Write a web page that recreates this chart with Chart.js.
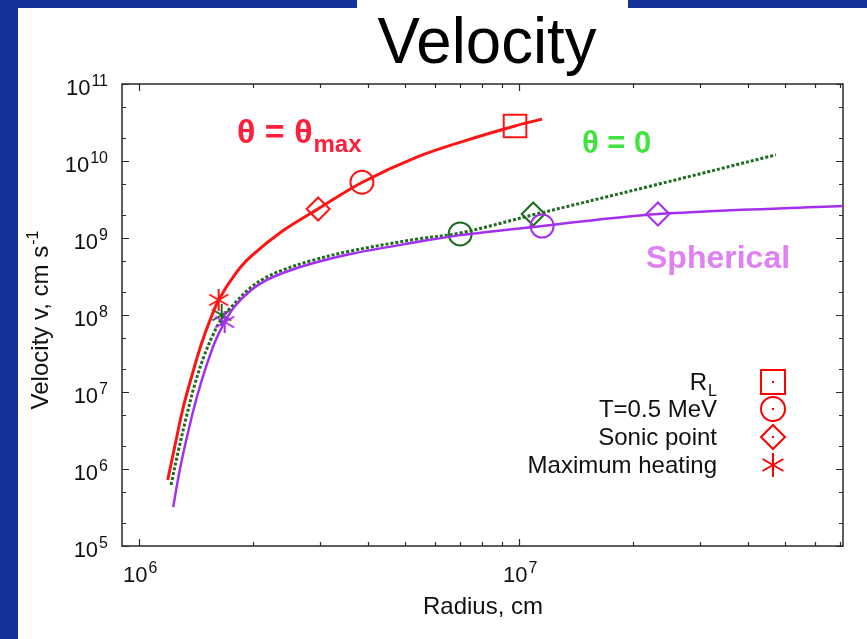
<!DOCTYPE html>
<html>
<head>
<meta charset="utf-8">
<title>Velocity</title>
<script src="https://cdn.jsdelivr.net/npm/chart.js@4.4.0/dist/chart.umd.min.js"></script>
<style>
  html, body { margin: 0; padding: 0; background: #fff; }
  #wrap { width: 867px; height: 639px; }
</style>
</head>
<body>
<div id="wrap"><canvas id="myChart" width="867" height="639"></canvas></div>
<script>
// radius (cm) / velocity (cm/s)
const redR = [1.19e6, 1.244e6, 1.306e6, 1.379e6, 1.456e6, 1.538e6, 1.62e6, 1.789e6, 1.96e6, 2.39e6, 2.96e6, 3.86e6, 5.4e6, 7.3e6, 9.76e6, 1.15e7];
const redV = [7.2e5, 2.05e6, 6.2e6, 1.66e7, 4.07e7, 8.6e7, 1.57e8, 3.37e8, 5.64e8, 1.24e9, 2.39e9, 5.26e9, 1.13e10, 1.87e10, 2.85e10, 3.5e10];

const greenR = [1.214e6, 1.267e6, 1.33e6, 1.40e6, 1.48e6, 1.565e6, 1.66e6, 1.789e6, 1.96e6, 2.146e6, 2.39e6, 2.82e6, 3.6e6, 5.4e6, 7.0e6, 1.09e7, 2.21e7, 4.74e7];
const greenV = [6.2e5, 1.66e6, 4.6e6, 1.23e7, 2.85e7, 5.5e7, 9.4e7, 1.43e8, 2.24e8, 3.03e8, 3.84e8, 5.02e8, 6.77e8, 9.7e8, 1.16e9, 2.0e9, 4.7e9, 1.2e10];

const purpleR = [1.23e6, 1.28e6, 1.346e6, 1.42e6, 1.5e6, 1.585e6, 1.68e6, 1.789e6, 1.96e6, 2.146e6, 2.39e6, 2.82e6, 3.6e6, 5.4e6, 7.0e6, 1.15e7, 2.32e7, 7.13e7];
const purpleV = [3.2e5, 9.7e5, 3.0e6, 8.6e6, 2.1e7, 4.5e7, 8.1e7, 1.31e8, 2.05e8, 2.77e8, 3.51e8, 4.59e8, 6.2e8, 8.87e8, 1.09e9, 1.43e9, 2.05e9, 2.6e9];

// special points: R_L, T=0.5 MeV, sonic point, maximum heating
const redMarkR = [9.76e6, 3.86e6, 2.96e6, 1.62e6];
const redMarkV = [2.85e10, 5.3e9, 2.38e9, 1.57e8];
const greenMarkR = [null, 7.0e6, 1.09e7, 1.65e6];
const greenMarkV = [null, 1.13e9, 2.05e9, 1.0e8];
const purpleMarkR = [null, 1.15e7, 2.32e7, 1.68e6];
const purpleMarkV = [null, 1.43e9, 2.05e9, 8.1e7];

const legendLabels = ['R', 'T=0.5 MeV', 'Sonic point', 'Maximum heating'];
const xTickExp = ['6', '7'];
const yTickExp = ['5', '6', '7', '8', '9', '10', '11'];

const FONT = '"Liberation Sans", Arial, Helvetica, sans-serif';
const RED = '#ff1414';
const GREEN = '#1f6b1f';
const PURPLE = '#a52ff0';

function pts(xs, ys) {
  const out = [];
  for (let i = 0; i < xs.length; i++) {
    if (xs[i] !== null) out.push({ x: xs[i], y: ys[i] });
  }
  return out;
}

function asterisk(color, r, lw) {
  const c = document.createElement('canvas');
  const s = Math.ceil(2 * r + lw + 2);
  c.width = s; c.height = s;
  const g = c.getContext('2d');
  g.strokeStyle = color; g.lineWidth = lw;
  g.translate(s / 2, s / 2);
  [90, 30, 150].forEach(function (deg) {
    const t = deg * Math.PI / 180;
    g.beginPath();
    g.moveTo(-r * Math.cos(t), -r * Math.sin(t));
    g.lineTo(r * Math.cos(t), r * Math.sin(t));
    g.stroke();
  });
  return c;
}

const styles = ['rect', 'circle', 'rectRot'];
function markerSet(xs, ys, color, star) {
  const data = [], ps = [], rad = [];
  for (let i = 0; i < xs.length; i++) {
    if (xs[i] === null) continue;
    data.push({ x: xs[i], y: ys[i] });
    ps.push(i === 3 ? star : styles[i]);
    rad.push(i === 0 ? 16 : 11.5);
  }
  return {
    data: data, showLine: false, borderColor: color, backgroundColor: 'rgba(0,0,0,0)',
    pointStyle: ps, pointRadius: rad, pointBorderWidth: 2, pointHoverRadius: rad
  };
}

function lineSet(xs, ys, color, width, dash) {
  return {
    data: pts(xs, ys), showLine: true, borderColor: color, borderWidth: width,
    borderDash: dash || [], pointRadius: 0, pointHoverRadius: 0,
    tension: 0.35, fill: false
  };
}

function supText(ctx, base, sup, x, y, size, supSize, rise, align) {
  ctx.font = size + 'px ' + FONT;
  const w1 = ctx.measureText(base).width;
  ctx.font = supSize + 'px ' + FONT;
  const w2 = ctx.measureText(sup).width;
  let left = x;
  if (align === 'right') left = x - w1 - w2 - 1;
  if (align === 'center') left = x - (w1 + w2 + 1) / 2;
  ctx.textAlign = 'left';
  ctx.font = size + 'px ' + FONT;
  ctx.fillText(base, left, y);
  ctx.font = supSize + 'px ' + FONT;
  ctx.fillText(sup, left + w1 + 1, y - rise);
}

const slide = {
  id: 'slide',
  beforeDraw(chart) {
    const ctx = chart.ctx;
    ctx.save();
    ctx.fillStyle = '#ffffff';
    ctx.fillRect(0, 0, chart.width, chart.height);
    ctx.fillStyle = '#13329b';
    ctx.fillRect(0, 0, 18, chart.height);
    ctx.fillRect(0, 0, chart.width, 8);
    ctx.fillStyle = '#ffffff';
    ctx.fillRect(357, 0, 271, 80);
    ctx.fillStyle = '#000000';
    ctx.textAlign = 'center';
    ctx.textBaseline = 'alphabetic';
    ctx.font = '60px ' + FONT;
    ctx.translate(487, 63);
    ctx.scale(1.06, 1.08);
    ctx.fillText('Velocity', 0, 0);
    ctx.restore();
  },
  beforeDatasetsDraw(chart) {
    const ctx = chart.ctx, a = chart.chartArea;
    const xs = chart.scales.x, ys = chart.scales.y;
    ctx.save();
    ctx.strokeStyle = '#2a2a2a';
    ctx.lineWidth = 1.5;
    ctx.strokeRect(a.left, a.top, a.right - a.left, a.bottom - a.top);
    ctx.lineWidth = 1.2;
    ctx.beginPath();
    [1e5, 1e6, 1e7].forEach(function (d) {
      for (let k = 1; k <= 9; k++) {
        const v = k * d;
        if (v < xs.min || v > xs.max) continue;
        const px = Math.round(xs.getPixelForValue(v)) + 0.5;
        const len = k === 1 ? 7 : 4;
        ctx.moveTo(px, a.bottom); ctx.lineTo(px, a.bottom - len);
        ctx.moveTo(px, a.top); ctx.lineTo(px, a.top + len);
      }
    });
    for (let e = 5; e <= 11; e++) {
      [1, 2, 5].forEach(function (k) {
        const v = k * Math.pow(10, e);
        if (v > ys.max * 1.0001) return;
        const py = Math.round(ys.getPixelForValue(v)) + 0.5;
        const len = k === 1 ? 7 : 4;
        ctx.moveTo(a.left, py); ctx.lineTo(a.left + len, py);
        ctx.moveTo(a.right, py); ctx.lineTo(a.right - len, py);
      });
    }
    ctx.stroke();
    ctx.restore();
  },
  afterDraw(chart) {
    const ctx = chart.ctx, a = chart.chartArea;
    const xs = chart.scales.x, ys = chart.scales.y;
    ctx.save();
    ctx.fillStyle = '#111111';
    ctx.textBaseline = 'alphabetic';
    // tick labels
    xTickExp.forEach(function (e) {
      const px = xs.getPixelForValue(Math.pow(10, +e));
      supText(ctx, '10', e, px - 16, a.bottom + 36, 22, 16, 9, 'left');
    });
    yTickExp.forEach(function (e) {
      const py = ys.getPixelForValue(Math.pow(10, +e));
      supText(ctx, '10', e, 108, py + 11, 22, 16, 9, 'right');
    });
    // axis titles
    ctx.font = '24px ' + FONT;
    ctx.textAlign = 'center';
    ctx.fillText('Radius, cm', 483, 614);
    ctx.save();
    ctx.translate(48, 320);
    ctx.rotate(-Math.PI / 2);
    supText(ctx, 'Velocity v, cm s', '-1', 0, 0, 24, 16, 10, 'center');
    ctx.restore();

    // legend
    const rows = [382, 409, 437, 465];
    const sx = 773;
    ctx.fillStyle = '#111111';
    ctx.textAlign = 'right';
    legendLabels.forEach(function (t, i) {
      if (i === 0) {
        ctx.font = '16px ' + FONT;
        const wl = ctx.measureText('L').width;
        ctx.font = '24px ' + FONT;
        ctx.fillText(t, 717 - wl - 1, rows[i] + 8);
        ctx.font = '16px ' + FONT;
        ctx.fillText('L', 717, rows[i] + 14);
      } else {
        ctx.font = '24px ' + FONT;
        ctx.fillText(t, 717, rows[i] + 8);
      }
    });
    ctx.strokeStyle = '#ff0000';
    ctx.fillStyle = '#ff0000';
    ctx.lineWidth = 2;
    ctx.strokeRect(sx - 12, rows[0] - 12, 24, 24);
    ctx.beginPath(); ctx.arc(sx, rows[1], 12, 0, Math.PI * 2); ctx.stroke();
    ctx.beginPath();
    ctx.moveTo(sx - 12, rows[2]); ctx.lineTo(sx, rows[2] - 12);
    ctx.lineTo(sx + 12, rows[2]); ctx.lineTo(sx, rows[2] + 12); ctx.closePath();
    ctx.stroke();
    [90, 30, 150].forEach(function (deg) {
      const t = deg * Math.PI / 180;
      ctx.beginPath();
      ctx.moveTo(sx - 12 * Math.cos(t), rows[3] - 12 * Math.sin(t));
      ctx.lineTo(sx + 12 * Math.cos(t), rows[3] + 12 * Math.sin(t));
      ctx.stroke();
    });
    for (let i = 0; i < 3; i++) {
      ctx.fillRect(sx - 1, rows[i] - 1, 2, 2);
    }

    // curve annotations
    ctx.textAlign = 'left';
    ctx.fillStyle = '#ff1e3c';
    ctx.font = 'bold 34px ' + FONT;
    ctx.fillText('\u03b8 = \u03b8', 237, 143);
    const w = ctx.measureText('\u03b8 = \u03b8').width;
    ctx.font = 'bold 24px ' + FONT;
    ctx.fillText('max', 237 + w + 1, 152);
    ctx.fillStyle = '#3fe43f';
    ctx.font = 'bold 31px ' + FONT;
    ctx.fillText('\u03b8 = 0', 582, 153);
    ctx.fillStyle = '#df80f5';
    ctx.font = 'bold 32px ' + FONT;
    ctx.fillText('Spherical', 646, 268);
    ctx.restore();
  }
};

const ctx = document.getElementById('myChart').getContext('2d');
const config = {
  type: 'scatter',
  data: {
    datasets: [
      markerSet(purpleMarkR, purpleMarkV, PURPLE, asterisk(PURPLE, 11, 2)),
      lineSet(purpleR, purpleV, PURPLE, 2.5),
      markerSet(redMarkR, redMarkV, RED, asterisk(RED, 11, 2)),
      lineSet(redR, redV, RED, 3),
      markerSet(greenMarkR, greenMarkV, GREEN, asterisk(GREEN, 11, 2)),
      lineSet(greenR, greenV, GREEN, 3, [3, 2])
    ]
  },
  options: {
    responsive: false,
    animation: false,
    layout: { padding: { left: 122, top: 84, right: 24, bottom: 93 } },
    plugins: { legend: { display: false }, tooltip: { enabled: false } },
    scales: {
      x: { type: 'logarithmic', min: 9.02e5, max: 7.12e7, display: false },
      y: { type: 'logarithmic', min: 1e5, max: 1e11, display: false }
    }
  },
  plugins: [slide]
};
const myChart = new Chart(ctx, config);
</script>
</body>
</html>
